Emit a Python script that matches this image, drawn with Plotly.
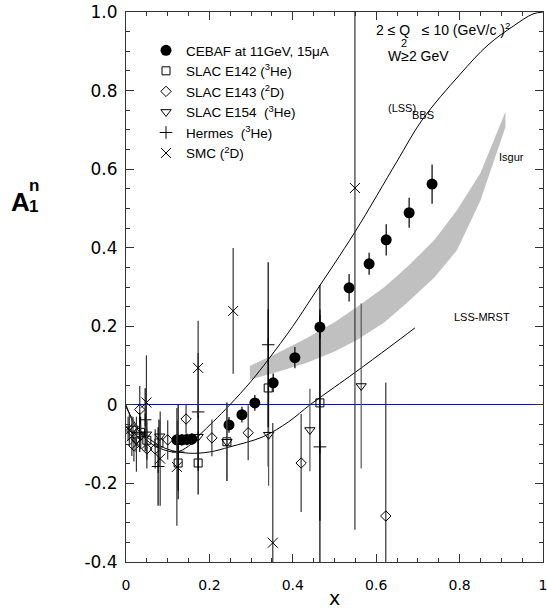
import plotly.graph_objects as go

# ---------------- data ----------------
cebaf_x = [0.122, 0.134, 0.146, 0.158, 0.247, 0.278, 0.309, 0.353, 0.405, 0.465, 0.535, 0.583, 0.624, 0.679, 0.734]
cebaf_y = [-0.089, -0.089, -0.088, -0.087, -0.051, -0.025, 0.005, 0.056, 0.12, 0.198, 0.298, 0.359, 0.42, 0.489, 0.562]
cebaf_e = [0.015, 0.015, 0.015, 0.015, 0.02, 0.02, 0.02, 0.024, 0.027, 0.03, 0.035, 0.028, 0.04, 0.038, 0.05]

e142_x = [0.035, 0.05, 0.079, 0.125, 0.173, 0.242, 0.341, 0.465]
e142_y = [-0.07, -0.09, -0.097, -0.148, -0.148, -0.094, 0.043, 0.005]
e142_e = [0.04, 0.05, 0.06, 0.07, 0.08, 0.1, 0.2, 0.3]

e143_x = [0.019, 0.033, 0.05, 0.07, 0.1, 0.144, 0.206, 0.293, 0.42, 0.623]
e143_y = [-0.104, -0.012, -0.112, -0.112, -0.089, -0.036, -0.084, -0.071, -0.148, -0.283]
e143_e = [0.04, 0.06, 0.05, 0.05, 0.05, 0.037, 0.047, 0.07, 0.125, 0.34]

e154_x = [0.017, 0.024, 0.035, 0.049, 0.081, 0.123, 0.173, 0.242, 0.342, 0.441, 0.564]
e154_y = [-0.06, -0.09, -0.08, -0.075, -0.08, -0.09, -0.081, -0.094, -0.076, -0.064, 0.048]
e154_e = [0.03, 0.03, 0.03, 0.03, 0.04, 0.05, 0.06, 0.095, 0.13, 0.105, 0.21]

hermes_x = [0.033, 0.046, 0.077, 0.125, 0.173, 0.341, 0.465]
hermes_y = [-0.07, -0.038, -0.157, -0.12, -0.018, 0.153, -0.107]
hermes_e = [0.05, 0.08, 0.1, 0.12, 0.15, 0.21, 0.35]

smc_x = [0.005, 0.008, 0.014, 0.025, 0.049, 0.082, 0.122, 0.173, 0.257, 0.352, 0.549]
smc_y = [-0.06, -0.065, -0.08, -0.1, 0.006, -0.137, -0.158, 0.094, 0.239, -0.351, 0.552]
smc_e = [0.03, 0.04, 0.05, 0.07, 0.12, 0.12, 0.15, 0.12, 0.16, 0.305, 0.87]

bbs_x = [0, 0.02, 0.05, 0.08, 0.12, 0.15, 0.177, 0.21, 0.249, 0.3, 0.341, 0.4, 0.45, 0.549, 0.65, 0.71, 0.8, 0.868, 0.93, 0.976, 1.0]
bbs_y = [0, -0.05, -0.09, -0.11, -0.12, -0.105, -0.076, -0.042, 0.0, 0.06, 0.115, 0.2, 0.28, 0.44, 0.62, 0.725, 0.84, 0.916, 0.965, 0.995, 1.0]

mrst_x = [0, 0.03, 0.06, 0.1, 0.15, 0.2, 0.249, 0.329, 0.39, 0.441, 0.5, 0.55, 0.633, 0.693]
mrst_y = [-0.005, -0.06, -0.09, -0.113, -0.123, -0.12, -0.107, -0.081, -0.043, 0.0, 0.045, 0.083, 0.148, 0.196]

band_x = [0.297, 0.36, 0.434, 0.5, 0.554, 0.62, 0.674, 0.74, 0.794, 0.85, 0.91]
band_hi = [0.099, 0.13, 0.17, 0.21, 0.249, 0.3, 0.351, 0.42, 0.496, 0.59, 0.746]
band_lo = [0.064, 0.083, 0.107, 0.136, 0.165, 0.21, 0.26, 0.325, 0.394, 0.52, 0.707]

x_ticks = [0, 0.2, 0.4, 0.6, 0.8, 1.0]
x_ticktext = ["0", "0.2", "0.4", "0.6", "0.8", "1"]
y_ticks = [-0.4, -0.2, 0, 0.2, 0.4, 0.6, 0.8, 1.0]
y_ticktext = ["-0.4", "-0.2", "0", "0.2", "0.4", "0.6", "0.8", "1.0"]

# ---------------- figure ----------------
W, H = 547, 609
PL, PT, PR, PB = 126, 12, 543, 562          # plot box in page pixels
ML, MT, MR, MB = PL, PT, W - PR, H - PB
PW, PH = PR - PL, PB - PT


def px(xp):
    return (xp - PL) / PW


def py(yp):
    return (PB - yp) / PH


fig = go.Figure()

# Isgur band
fig.add_trace(go.Scatter(
    x=band_x + band_x[::-1], y=band_hi + band_lo[::-1],
    fill="toself", fillcolor="rgb(192,192,192)", line=dict(width=0),
    mode="lines", showlegend=False, hoverinfo="skip"))

# theory curves
fig.add_trace(go.Scatter(x=bbs_x, y=bbs_y, mode="lines", line=dict(color="black", width=1, shape="spline"),
                         showlegend=False))
fig.add_trace(go.Scatter(x=mrst_x, y=mrst_y, mode="lines", line=dict(color="black", width=1, shape="spline"),
                         showlegend=False))

LF = dict(family="Liberation Sans", size=13.5, color="black")


def data_trace(name, xs, ys, es, symbol, size, ecol, filled=False, lw=1):
    if filled:
        mk = dict(symbol=symbol, size=size, color="black", line=dict(color="black", width=0))
    else:
        mk = dict(symbol=symbol, size=size, color="black", line=dict(color="black", width=lw))
    return go.Scatter(
        x=xs, y=ys, mode="markers", name=name, marker=mk,
        error_y=dict(type="data", array=es, thickness=1.2, width=0, color=ecol))


fig.add_trace(data_trace("CEBAF at 11GeV, 15μA", cebaf_x, cebaf_y, cebaf_e, "circle", 11, "black", filled=True))
fig.add_trace(data_trace("SLAC E142 (<sup>3</sup>He)", e142_x, e142_y, e142_e, "square-open", 8, "black"))
fig.add_trace(data_trace("SLAC E143 (<sup>2</sup>D)", e143_x, e143_y, e143_e, "diamond-open", 8, "#333333"))
fig.add_trace(data_trace("SLAC E154  (<sup>3</sup>He)", e154_x, e154_y, e154_e, "triangle-down-open", 9, "#555555"))
fig.add_trace(data_trace("Hermes  (<sup>3</sup>He)", hermes_x, hermes_y, hermes_e, "cross-thin-open", 9, "black"))
fig.add_trace(data_trace("SMC (<sup>2</sup>D)", smc_x, smc_y, smc_e, "x-thin-open", 10, "#333333"))

axis_common = dict(showline=True, linecolor="#333333", linewidth=1, mirror="ticks",
                   ticks="inside", ticklen=8, tickcolor="#333333", showgrid=False, automargin=False,
                   ticklabeloverflow="allow")

fig.update_layout(
    width=W, height=H,
    margin=dict(l=ML, r=MR, t=MT, b=MB, autoexpand=False),
    plot_bgcolor="white", paper_bgcolor="white",
    xaxis=dict(range=[0, 1], tickvals=x_ticks, ticktext=x_ticktext,
               tickfont=dict(family="DejaVu Sans", size=14, color="black"),
               minor=dict(dtick=0.05, ticks="inside", ticklen=4, tickcolor="#333333"),
               zeroline=False, ticklabelstandoff=10,
               title=dict(text="x", font=dict(family="DejaVu Sans", size=19, color="black"), standoff=6),
               **axis_common),
    yaxis=dict(range=[-0.4, 1.0], tickvals=y_ticks, ticktext=y_ticktext,
               tickfont=dict(family="DejaVu Sans", size=17, color="black"),
               minor=dict(dtick=0.05, ticks="inside", ticklen=4, tickcolor="#333333"),
               zeroline=True, zerolinecolor="blue", zerolinewidth=1,
               ticklabelstandoff=4,
               **axis_common),
    legend=dict(x=px(146), y=py(35), xanchor="left", yanchor="top", font=LF,
                bgcolor="rgba(0,0,0,0)", tracegroupgap=0, itemwidth=30),
    showlegend=True,
)

TF = dict(family="Liberation Sans", color="black")
ann = [
    dict(x=px(20), y=py(202), text="<b>A</b>", font=dict(family="Liberation Sans", size=26, color="black")),
    dict(x=px(34), y=py(185), text="<b>n</b>", font=dict(family="Liberation Sans", size=17, color="black")),
    dict(x=px(33), y=py(207), text="<b>1</b>", font=dict(family="Liberation Sans", size=17, color="black")),
    dict(x=px(443), y=py(29), text="2 ≤ Q   ≤ 10 (GeV/c )<sup>2</sup>", font=dict(size=14, **TF)),
    dict(x=px(404), y=py(43), text="2", font=dict(size=11, **TF)),
    dict(x=px(418), y=py(56), text="W≥2 GeV", font=dict(size=14, **TF)),
    dict(x=px(402), y=py(108), text="(LSS)", font=dict(size=11, **TF)),
    dict(x=px(423), y=py(115), text="BBS", font=dict(size=11, **TF)),
    dict(x=px(511), y=py(157), text="Isgur", font=dict(size=11, **TF)),
    dict(x=px(482), y=py(317), text="LSS-MRST", font=dict(size=11, **TF)),
]
for a in ann:
    fig.add_annotation(xref="paper", yref="paper", showarrow=False, xanchor="center", yanchor="middle", **a)

fig.write_html("out.html", config={"displayModeBar": False},
               post_script="document.body.style.margin='0px';")
